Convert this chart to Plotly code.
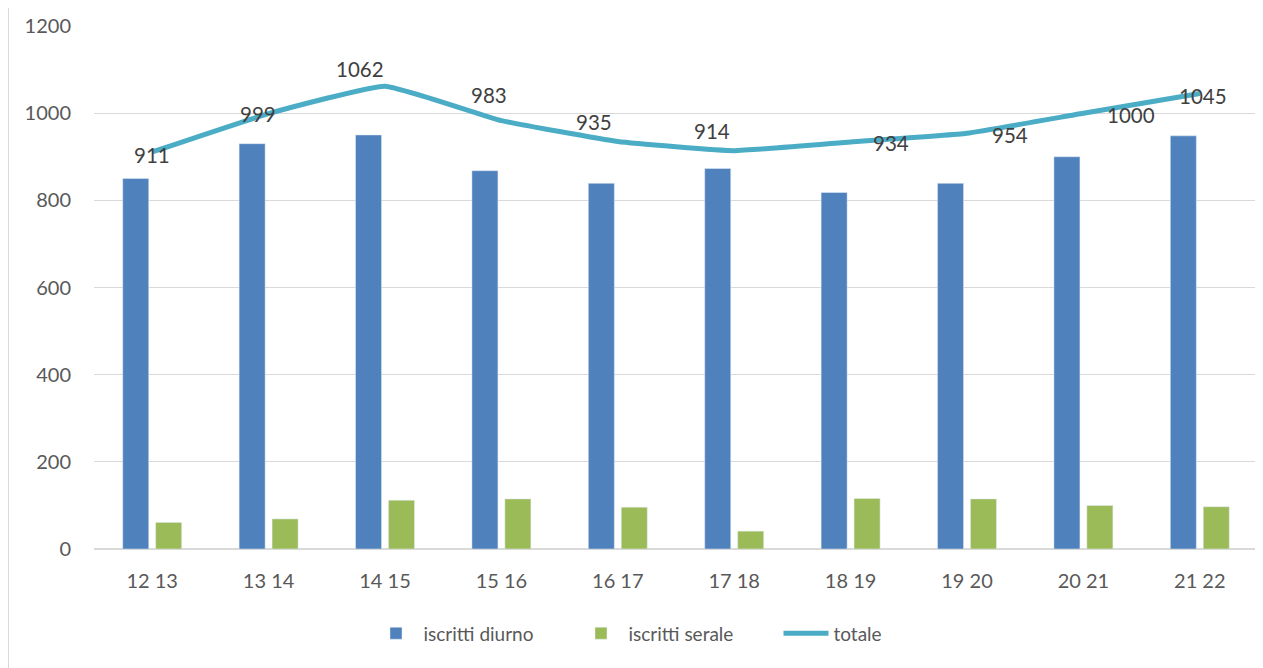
import plotly.graph_objects as go

categories = ["12 13", "13 14", "14 15", "15 16", "16 17", "17 18", "18 19", "19 20", "20 21", "21 22"]
diurno = [850, 930, 950, 868, 839, 873, 818, 839, 900, 948]
serale = [61, 69, 112, 115, 96, 41, 116, 115, 100, 97]
totale = [911, 999, 1062, 983, 935, 914, 934, 954, 1000, 1045]
# manual label offsets (pixels) as in the original chart
label_dx = [0, -11, -25, -12, -24, -22, 40, 43, 48, 3]
label_dy = [-3, 0, 17, 26, 20, 20, -1, -2, -2, -2]

FONT = "Lato"
fig = go.Figure()
fig.add_trace(go.Bar(x=categories, y=diurno, name="iscritti diurno", marker_color="#4F81BD"))
fig.add_trace(go.Bar(x=categories, y=serale, name="iscritti serale", marker_color="#9BBB59"))
fig.add_trace(go.Scatter(x=categories, y=totale, name="totale", mode="lines",
                         line=dict(color="#4BACC6", width=5, shape="spline", smoothing=0.35)))

for c, v, dx, dy in zip(categories, totale, label_dx, label_dy):
    fig.add_annotation(x=c, y=v, text=str(v), showarrow=False, xshift=dx, yshift=dy,
                       font=dict(family=FONT, size=20.5, color="#404040"))

fig.add_shape(type="line", xref="paper", yref="paper", x0=-86/1164, x1=-86/1164, y0=-0.3, y1=1.1,
              line=dict(color="#D9D9D9", width=2))

fig.update_layout(
    width=1255, height=660,
    margin=dict(l=86, r=5, t=13, b=119),
    paper_bgcolor="white", plot_bgcolor="white",
    barmode="group", bargap=0.434, bargroupgap=0.21,
    font=dict(family=FONT, size=20, color="#595959"),
    legend=dict(orientation="h", x=0.5, xanchor="center", y=-0.125, yanchor="top",
                font=dict(family=FONT, size=19, color="#595959"), traceorder="normal",
                itemwidth=45, entrywidth=145),
    xaxis=dict(showgrid=False, showline=False, ticks="", ticklabelstandoff=18,
               tickfont=dict(family=FONT, size=20, color="#595959")),
    yaxis=dict(range=[0, 1200], dtick=200, showgrid=True, gridcolor="#D9D9D9", gridwidth=1,
               zeroline=True, zerolinecolor="#D9D9D9", zerolinewidth=2, showline=False,
               ticks="", ticklabelstandoff=22,
               tickfont=dict(family=FONT, size=20, color="#595959")),
)
fig.write_html("out.html")
